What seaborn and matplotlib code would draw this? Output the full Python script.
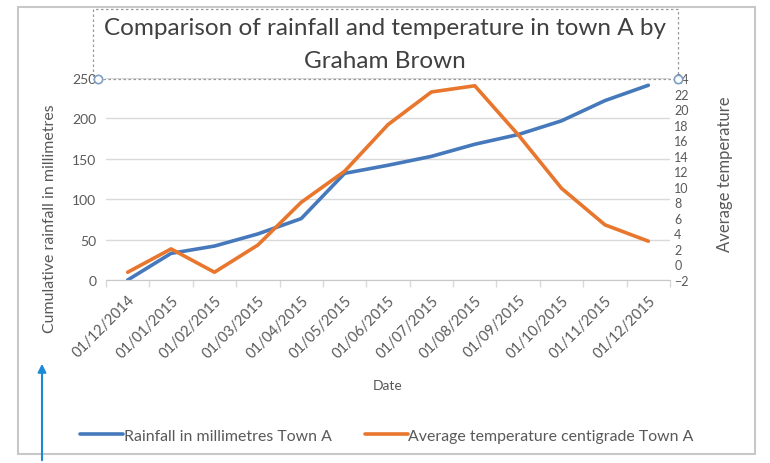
import numpy as np
import pandas as pd
import matplotlib.pyplot as plt
import matplotlib.patches as mpatches
from matplotlib.lines import Line2D
import seaborn as sns

# data
dates = ['01/12/2014', '01/01/2015', '01/02/2015', '01/03/2015', '01/04/2015',
         '01/05/2015', '01/06/2015', '01/07/2015', '01/08/2015', '01/09/2015',
         '01/10/2015', '01/11/2015', '01/12/2015']
rainfall = [0, 33, 42, 57, 76, 132, 142, 153, 168, 180, 197, 222, 241]
temperature = [-1, 2, -1, 2.5, 8, 12, 18, 22.2, 23, 16.7, 9.8, 5.1, 3]

rain_label = 'Rainfall in millimetres Town A'
temp_label = 'Average temperature centigrade Town A'

blue = '#4679bb'
orange = '#e8762d'
grey_txt = '#595959'

sns.set_style('white')
plt.rcParams['font.family'] = ['Lato', 'DejaVu Sans']

df = pd.DataFrame({'Date': dates, 'Rainfall': rainfall, 'Temperature': temperature})

W, H = 770, 464
fig = plt.figure(figsize=(W / 100, H / 100), dpi=100)

def fx(px):
    return px / W

def fy(py):
    return 1 - py / H

ax = fig.add_axes([fx(106), fy(281), fx(670) - fx(106), fy(79) - fy(281)])
sns.lineplot(data=df, x='Date', y='Rainfall', ax=ax, color=blue, lw=2.6,
             sort=False, label=rain_label)
ax2 = ax.twinx()
sns.lineplot(data=df, x='Date', y='Temperature', ax=ax2, color=orange, lw=2.6,
             sort=False, label=temp_label)

ax.set_xlim(-0.5, 12.5)
ax.set_ylim(0, 250)
ax2.set_ylim(-2, 24)
ax.set_yticks(np.arange(0, 251, 50))
ax2.set_yticks(np.arange(-2, 25, 2))
ax.set_xticks(np.arange(-0.5, 13, 1), minor=True)
ax.yaxis.grid(True, color='#d9d9d9', lw=1)
ax.set_axisbelow(True)

for a in (ax, ax2):
    for s in a.spines.values():
        s.set_visible(False)
ax.spines['bottom'].set_visible(True)
ax.spines['bottom'].set_color('#c8c8c8')

ax.tick_params(axis='y', labelsize=10, colors=grey_txt, length=0, pad=7)
ax2.tick_params(axis='y', labelsize=9, colors=grey_txt, length=0, pad=3)
ax.tick_params(axis='x', which='major', labelsize=10.5, colors=grey_txt, length=0, pad=9)
ax.tick_params(axis='x', which='minor', bottom=True, length=5, width=1,
               color='#d9d9d9', direction='out')
for lab in ax.get_xticklabels():
    lab.set_rotation(45)
    lab.set_ha('right')
    lab.set_rotation_mode('anchor')

ax.set_xlabel('Date', fontsize=10, color=grey_txt)
ax.xaxis.set_label_coords(0.5, -0.49)
ax.set_ylabel('Cumulative rainfall in millimetres', fontsize=11.4, color=grey_txt)
ax.yaxis.set_label_coords(-0.087, 0.31)
ax2.set_ylabel('Average temperature', fontsize=12, color=grey_txt)
ax2.yaxis.set_label_coords(1.083, 0.53)

ax.get_legend().remove()
ax2.get_legend().remove()
handles = [Line2D([], [], color=blue, lw=2.6), Line2D([], [], color=orange, lw=2.6)]
fig.legend(handles, [rain_label, temp_label], loc='center', ncol=2,
           bbox_to_anchor=(fx(387), fy(437)), frameon=False, fontsize=11.4,
           handlelength=2.7, handletextpad=0.05, columnspacing=2.1,
           labelcolor=grey_txt)

# title
fig.text(0.5, fy(45), 'Comparison of rainfall and temperature in town A by\nGraham Brown',
         ha='center', va='center', fontsize=17.5, color='#404040', linespacing=1.7)

# selected title box and outer chart frame
fig.add_artist(mpatches.Rectangle((fx(93), fy(80)), fx(678) - fx(93), fy(10) - fy(80),
                                  transform=fig.transFigure, fill=False,
                                  ec='#9a9a9a', lw=0.9, ls=(0, (2, 2))))
fig.add_artist(mpatches.Rectangle((fx(18), fy(455)), fx(755) - fx(18), fy(8) - fy(455),
                                  transform=fig.transFigure, fill=False,
                                  ec='#c8c8c8', lw=1.5))
for px, py in [(98, 80), (678, 80)]:
    fig.add_artist(Line2D([fx(px)], [fy(py)], transform=fig.transFigure, marker='o',
                          ms=6, mfc='white', mec='#7f9fc4', mew=1.2))

# arrow annotation at the bottom left
fig.add_artist(mpatches.FancyArrowPatch((fx(42), fy(464)), (fx(42), fy(362)),
                                        transform=fig.transFigure, arrowstyle='-|>',
                                        mutation_scale=12, color='#1a8ad4', lw=1.5))

fig.savefig('out.png', dpi=100, facecolor='white')
